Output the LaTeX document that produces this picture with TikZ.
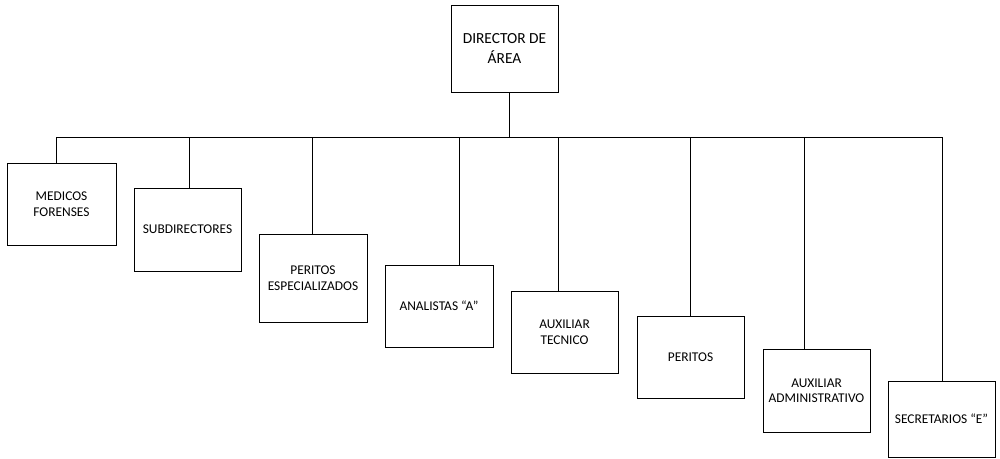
\documentclass[tikz,border=0pt]{standalone}
\usepackage{fontspec}
\setmainfont{Carlito}
\usepackage{tikz}

\begin{document}
\begin{tikzpicture}[x=1pt,y=-1pt]
      \tikzset { puesto/.style = { shape=rectangle,draw,line width=1pt,inner sep=0pt,align=center,
                                   minimum width=107pt,minimum height=82pt,
                                   font=\fontsize{13.4}{15.5}\selectfont } }
      \tikzset { enlace/.style = { draw,line width=1pt } }

      \useasboundingbox (0,0) rectangle (1000,458);

      \node[puesto,minimum height=87pt,font=\fontsize{15.4}{20}\selectfont] (dir) at (504.5,48.5) {DIRECTOR DE\\ÁREA};

      \node[puesto,minimum width=109pt] (med) at (61.5,204) {MEDICOS\\FORENSES};
      \node[puesto,minimum height=83pt] (sub) at (187.5,229.5) {SUBDIRECTORES};
      \node[puesto,minimum width=108pt,minimum height=88pt] (pesp) at (313,278) {PERITOS\\ESPECIALIZADOS};
      \node[puesto,minimum width=108pt] (ana) at (439,306) {ANALISTAS “A”};
      \node[puesto] (auxt) at (564.5,332) {AUXILIAR\\TECNICO};
      \node[puesto] (per) at (690.5,357) {PERITOS};
      \node[puesto,minimum height=83pt] (auxa) at (816.5,390.5) {AUXILIAR\\ADMINISTRATIVO};
      \node[puesto,minimum height=76pt] (sec) at (941.5,419) {SECRETARIOS “E”};

      \coordinate (barra) at (0,137);

      \draw[enlace] ([xshift=4.5pt]dir.south) -- ([xshift=4.5pt]dir.south |- barra);
      \draw[enlace] ([xshift=-5.5pt]med.north |- barra) -- ([xshift=0.5pt]sec.north |- barra);

      \draw[enlace] ([xshift=-5.5pt]med.north) -- ([xshift=-5.5pt]med.north |- barra);
      \draw[enlace] ([xshift=1.5pt]sub.north) -- ([xshift=1.5pt]sub.north |- barra);
      \draw[enlace] ([xshift=-1pt]pesp.north) -- ([xshift=-1pt]pesp.north |- barra);
      \draw[enlace] ([xshift=20pt]ana.north) -- ([xshift=20pt]ana.north |- barra);
      \draw[enlace] ([xshift=-6.5pt]auxt.north) -- ([xshift=-6.5pt]auxt.north |- barra);
      \draw[enlace] (per.north) -- (per.north |- barra);
      \draw[enlace] ([xshift=-12.5pt]auxa.north) -- ([xshift=-12.5pt]auxa.north |- barra);
      \draw[enlace] ([xshift=0.5pt]sec.north) -- ([xshift=0.5pt]sec.north |- barra);

    \end{tikzpicture}
\end{document}
